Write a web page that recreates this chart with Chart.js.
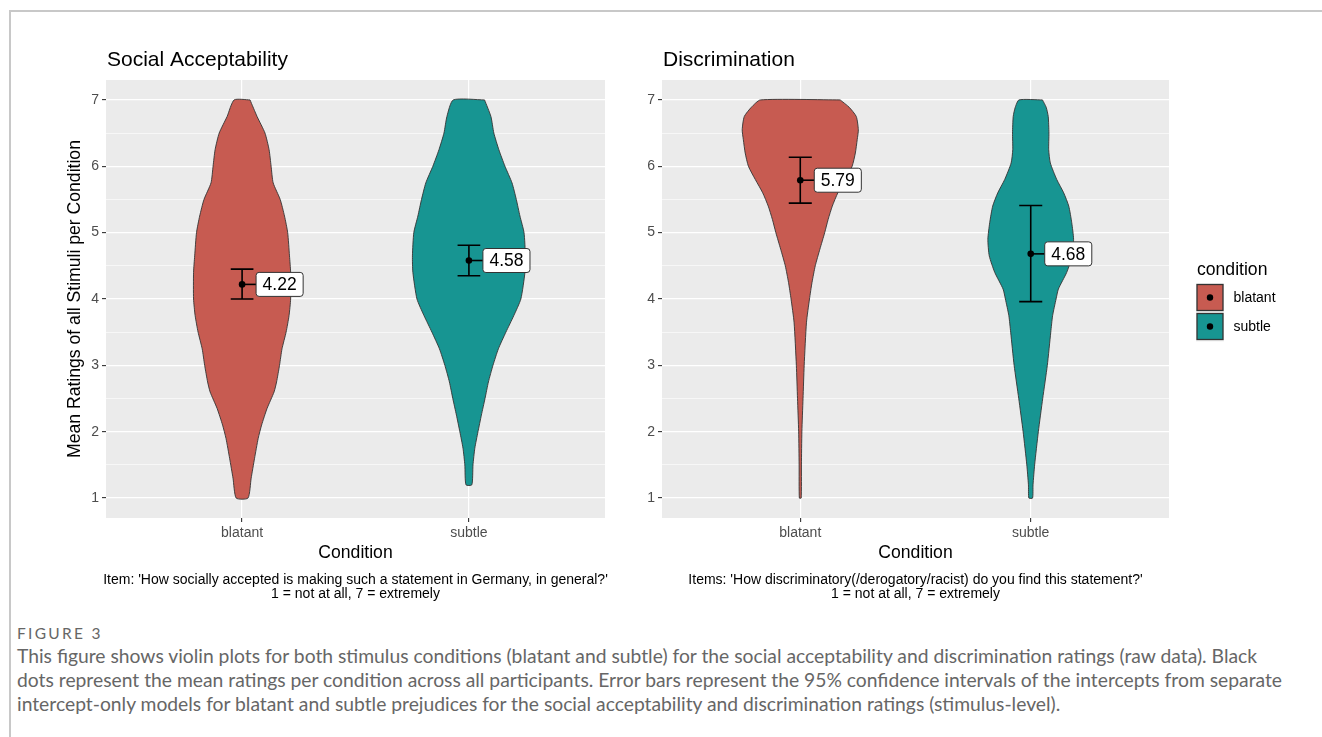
<!DOCTYPE html>
<html>
<head>
<meta charset="utf-8">
<title>Violin plots: social acceptability and discrimination ratings</title>
<script src="https://cdn.jsdelivr.net/npm/chart.js@4.4.1/dist/chart.umd.min.js"></script>
<style>
  html, body { margin: 0; padding: 0; background: #fff; }
  #page { position: relative; width: 1322px; height: 737px; overflow: hidden; background: #fff; }
  .rule-top { position: absolute; left: 9px; top: 10px; right: 0; border-top: 2px solid #c8c8c8; }
  .rule-left { position: absolute; left: 9px; top: 10px; bottom: 0; border-left: 2px solid #c8c8c8; }
  #accChart { position: absolute; left: 0; top: 0; }
  #discChart { position: absolute; left: 620px; top: 0; }
  .fig-label { position: absolute; left: 17px; top: 624px; font: 15.5px "Lato", "Liberation Sans", sans-serif; letter-spacing: 2.3px; color: #666; }
  .fig-text { position: absolute; left: 17px; top: 644px; width: 1300px; white-space: nowrap; font: 19.3px/24px "Lato", "Liberation Sans", sans-serif; color: #666; }
</style>
</head>
<body>
<div id="page">
  <div class="rule-top"></div>
  <div class="rule-left"></div>
  <canvas id="accChart" width="620" height="610"></canvas>
  <canvas id="discChart" width="702" height="610"></canvas>
  <div class="fig-label">FIGURE 3</div>
  <div class="fig-text">This figure shows violin plots for both stimulus conditions (blatant and subtle) for the social acceptability and discrimination ratings (raw data). Black<br>dots represent the mean ratings per condition across all participants. Error bars represent the 95% confidence intervals of the intercepts from separate<br>intercept-only models for blatant and subtle prejudices for the social acceptability and discrimination ratings (stimulus-level).</div>
</div>
<script>
// ---- data -------------------------------------------------------------
const categories = ['blatant', 'subtle'];
const ratingTicks = [1, 2, 3, 4, 5, 6, 7];
const conditionColors = ['#C75B51', '#179592'];

// Violin outlines: rating level and half-width of the density (in category units)
const accBlatantLevels = [7.0, 6.75, 6.5, 6.25, 6.0, 5.75, 5.5, 5.25, 5.0, 4.65, 4.4, 4.0, 3.75, 3.5, 3.25, 3.0, 2.75, 2.6, 2.35, 2.1, 1.9, 1.6, 1.3, 1.0];
const accBlatantWidths = [0.035, 0.066, 0.101, 0.119, 0.128, 0.137, 0.168, 0.187, 0.201, 0.209, 0.214, 0.214, 0.207, 0.194, 0.176, 0.165, 0.152, 0.141, 0.110, 0.086, 0.071, 0.055, 0.040, 0.026];
const accSubtleLevels = [7.0, 6.75, 6.5, 6.25, 6.0, 5.75, 5.5, 5.25, 5.0, 4.65, 4.4, 4.0, 3.75, 3.5, 3.25, 3.0, 2.75, 2.5, 2.25, 2.0, 1.75, 1.5, 1.2];
const accSubtleWidths = [0.069, 0.097, 0.110, 0.132, 0.159, 0.190, 0.209, 0.225, 0.243, 0.249, 0.247, 0.229, 0.198, 0.163, 0.130, 0.106, 0.086, 0.071, 0.055, 0.040, 0.026, 0.018, 0.013];
const discBlatantLevels = [7.0, 6.89, 6.75, 6.55, 6.4, 6.2, 6.0, 5.8, 5.6, 5.4, 5.2, 5.0, 4.75, 4.5, 4.25, 4.0, 3.65, 3.0, 2.5, 2.0, 1.5, 1.0];
const discBlatantWidths = [0.173, 0.212, 0.243, 0.252, 0.247, 0.239, 0.225, 0.195, 0.163, 0.139, 0.121, 0.106, 0.085, 0.065, 0.051, 0.040, 0.027, 0.017, 0.012, 0.007, 0.005, 0.004];
const discSubtleLevels = [7.0, 6.89, 6.75, 6.5, 6.25, 6.05, 5.8, 5.6, 5.4, 5.15, 4.9, 4.65, 4.4, 4.15, 4.0, 3.75, 3.5, 3.0, 2.5, 2.0, 1.5, 1.2, 1.0];
const discSubtleWidths = [0.051, 0.067, 0.076, 0.079, 0.078, 0.085, 0.113, 0.143, 0.165, 0.178, 0.186, 0.180, 0.156, 0.120, 0.110, 0.095, 0.087, 0.072, 0.052, 0.033, 0.017, 0.010, 0.008];

// Means and 95% confidence intervals per condition
const accMeans = [4.22, 4.58];
const accCiLow = [4.00, 4.35];
const accCiHigh = [4.45, 4.81];
const discMeans = [5.79, 4.68];
const discCiLow = [5.445, 3.96];
const discCiHigh = [6.135, 5.41];

// ---- helpers ----------------------------------------------------------
const FONT = '"Liberation Sans", Arial, sans-serif';
const ERRORBAR_HALF = 0.05;

function violinPoints(center, levels, halfWidths) {
  const right = levels.map((y, i) => ({ x: center + halfWidths[i], y }));
  const left = levels.map((y, i) => ({ x: center - halfWidths[i], y })).reverse();
  return right.concat(left, [right[0]]);
}

function errorBarPoints(center, lo, hi) {
  return [
    { x: center - ERRORBAR_HALF, y: hi }, { x: center + ERRORBAR_HALF, y: hi }, { x: center, y: null },
    { x: center, y: hi }, { x: center, y: lo }, { x: center, y: null },
    { x: center - ERRORBAR_HALF, y: lo }, { x: center + ERRORBAR_HALF, y: lo }
  ];
}

function buildDatasets(violins, means, lo, hi) {
  const sets = [];
  violins.forEach((v, i) => {
    sets.push({
      label: categories[i],
      data: violinPoints(i + 1, v.levels, v.widths),
      borderColor: '#333333',
      borderWidth: 0.9,
      backgroundColor: conditionColors[i],
      fill: 'shape',
      tension: 0.2,
      pointRadius: 0,
      order: 3
    });
  });
  means.forEach((m, i) => {
    sets.push({
      label: categories[i] + ' CI',
      data: errorBarPoints(i + 1, lo[i], hi[i]),
      borderColor: '#000',
      borderWidth: 1.6,
      tension: 0.0001,
      spanGaps: false,
      pointRadius: 0,
      fill: false,
      order: 2
    });
  });
  sets.push({
    label: 'mean',
    data: means.map((m, i) => ({ x: i + 1, y: m })),
    showLine: false,
    pointRadius: 3.3,
    pointBackgroundColor: '#000',
    pointBorderWidth: 0,
    order: 1
  });
  return sets;
}

const panelBackground = {
  id: 'panelBackground',
  beforeDraw(chart) {
    const { ctx, chartArea: a } = chart;
    ctx.save();
    ctx.fillStyle = '#EBEBEB';
    ctx.fillRect(a.left, a.top, a.right - a.left, a.bottom - a.top);
    ctx.restore();
  }
};

function panelText(title, noteLines) {
  return {
    id: 'panelText',
    afterDraw(chart) {
      const { ctx, chartArea: a } = chart;
      ctx.save();
      ctx.fillStyle = '#000';
      ctx.textBaseline = 'alphabetic';
      ctx.textAlign = 'left';
      ctx.font = '21px ' + FONT;
      ctx.fillText(title, a.left + 1, 66);
      ctx.textAlign = 'center';
      ctx.font = '14px ' + FONT;
      const cx = (a.left + a.right) / 2;
      noteLines.forEach((line, i) => ctx.fillText(line, cx, 584 + i * 14));
      ctx.restore();
    }
  };
}

function meanLabels(means) {
  return {
    id: 'meanLabels',
    afterDatasetsDraw(chart) {
      const { ctx, scales: { x, y } } = chart;
      ctx.save();
      ctx.font = '17.5px ' + FONT;
      means.forEach((m, i) => {
        const cx = x.getPixelForValue(i + 1);
        const cy = y.getPixelForValue(m);
        const text = m.toFixed(2);
        const tw = ctx.measureText(text).width;
        const bx = cx + 14, bw = tw + 13, bh = 24, by = cy - bh / 2;
        ctx.strokeStyle = '#000';
        ctx.lineWidth = 1.6;
        ctx.beginPath(); ctx.moveTo(cx, cy); ctx.lineTo(bx, cy); ctx.stroke();
        ctx.beginPath(); ctx.roundRect(bx, by, bw, bh, 3);
        ctx.fillStyle = '#fff'; ctx.fill();
        ctx.lineWidth = 1; ctx.strokeStyle = '#333'; ctx.stroke();
        ctx.fillStyle = '#000';
        ctx.textAlign = 'left';
        ctx.textBaseline = 'middle';
        ctx.fillText(text, bx + 6.5, cy + 1);
      });
      ctx.restore();
    }
  };
}

const conditionLegend = {
  id: 'conditionLegend',
  afterDraw(chart) {
    const { ctx, chartArea: a } = chart;
    const x0 = a.right + 28;
    ctx.save();
    ctx.fillStyle = '#000';
    ctx.font = '17.6px ' + FONT;
    ctx.textAlign = 'left';
    ctx.textBaseline = 'alphabetic';
    ctx.fillText('condition', x0, 275);
    categories.forEach((c, i) => {
      const top = 284.5 + i * 29;
      ctx.fillStyle = '#F2F2F2';
      ctx.fillRect(x0 - 1, top - 1, 28, 29);
      ctx.fillStyle = conditionColors[i];
      ctx.strokeStyle = '#333';
      ctx.lineWidth = 1.3;
      ctx.fillRect(x0, top, 26, 26);
      ctx.strokeRect(x0, top, 26, 26);
      ctx.fillStyle = '#000';
      ctx.beginPath(); ctx.arc(x0 + 13, top + 13, 3.2, 0, Math.PI * 2); ctx.fill();
      ctx.font = '14px ' + FONT;
      ctx.textBaseline = 'middle';
      ctx.fillText(c, x0 + 36.5, top + 14);
      ctx.textBaseline = 'alphabetic';
    });
    ctx.restore();
  }
};

function scalesConfig(yAxisWidth, yTitle) {
  const tickFont = { family: FONT, size: 14 };
  return {
    x: {
      type: 'linear', min: 0.4, max: 2.6,
      afterBuildTicks: s => { s.ticks = categories.map((c, i) => ({ value: i + 1 })); },
      afterFit: s => { s.height = 50; },
      ticks: { callback: v => categories[v - 1], color: '#4D4D4D', font: tickFont, padding: 2.5, autoSkip: false, maxRotation: 0 },
      grid: { color: '#FFFFFF', lineWidth: 1.2, tickColor: '#333333', tickLength: 4, tickWidth: 1.1 },
      border: { display: false },
      title: { display: true, text: 'Condition', color: '#000', font: { family: FONT, size: 17.6 }, padding: { top: 0, bottom: 4.4 } }
    },
    y: {
      type: 'linear', min: 0.7, max: 7.3,
      afterBuildTicks: s => {
        const t = [];
        ratingTicks.forEach((v, i) => { t.push({ value: v }); if (i < ratingTicks.length - 1) t.push({ value: v + 0.5 }); });
        s.ticks = t;
      },
      afterFit: s => { s.width = yAxisWidth; },
      ticks: { callback: v => (Number.isInteger(v) ? String(v) : ''), color: '#4D4D4D', font: tickFont, padding: 3, autoSkip: false },
      grid: {
        color: '#FFFFFF',
        lineWidth: c => (Number.isInteger(c.tick.value) ? 1.2 : 0.6),
        tickColor: c => (Number.isInteger(c.tick.value) ? '#333333' : 'rgba(0,0,0,0)'),
        tickLength: 4, tickWidth: 1.1
      },
      border: { display: false },
      title: yTitle
        ? { display: true, text: yTitle, color: '#000', font: { family: FONT, size: 17.6 }, padding: { top: 65, bottom: 0 } }
        : { display: false }
    }
  };
}

function makePanel(canvasId, opts) {
  return new Chart(document.getElementById(canvasId), {
    type: 'line',
    data: { datasets: buildDatasets(opts.violins, opts.means, opts.lo, opts.hi) },
    options: {
      responsive: false,
      animation: false,
      events: [],
      layout: { padding: { left: 0, right: opts.padRight, top: 80, bottom: 42 } },
      plugins: { legend: { display: false }, tooltip: { enabled: false }, title: { display: false } },
      scales: scalesConfig(opts.yAxisWidth, opts.yTitle)
    },
    plugins: [panelBackground, panelText(opts.title, opts.notes), meanLabels(opts.means)].concat(opts.extra || [])
  });
}

makePanel('accChart', {
  title: 'Social Acceptability',
  notes: ["Item: 'How socially accepted is making such a statement in Germany, in general?'", '1 = not at all, 7 = extremely'],
  violins: [
    { levels: accBlatantLevels, widths: accBlatantWidths },
    { levels: accSubtleLevels, widths: accSubtleWidths }
  ],
  means: accMeans, lo: accCiLow, hi: accCiHigh,
  yAxisWidth: 106, padRight: 15,
  yTitle: 'Mean Ratings of all Stimuli per Condition'
});

makePanel('discChart', {
  title: 'Discrimination',
  notes: ["Items: 'How discriminatory(/derogatory/racist) do you find this statement?'", '1 = not at all, 7 = extremely'],
  violins: [
    { levels: discBlatantLevels, widths: discBlatantWidths },
    { levels: discSubtleLevels, widths: discSubtleWidths }
  ],
  means: discMeans, lo: discCiLow, hi: discCiHigh,
  yAxisWidth: 42, padRight: 153,
  yTitle: null,
  extra: [conditionLegend]
});
</script>
</body>
</html>
